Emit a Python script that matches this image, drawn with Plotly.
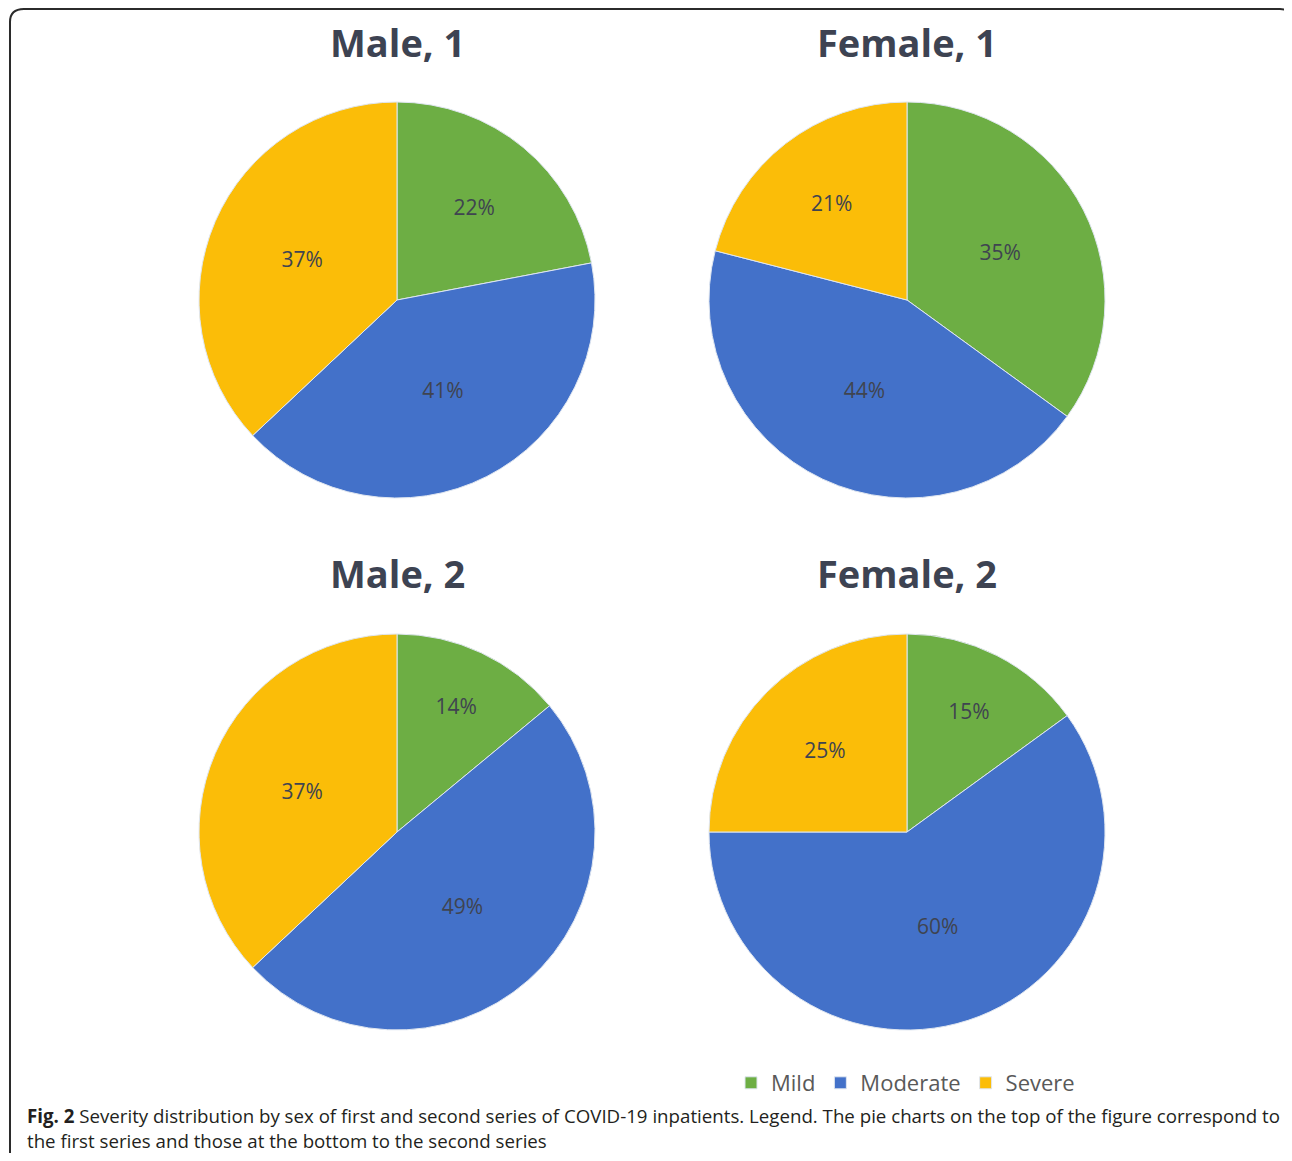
import plotly.graph_objects as go

severity = ['Mild', 'Moderate', 'Severe']
colors = ['#6DAE44', '#4371C9', '#FBBD08']

titles = ['Male, 1', 'Female, 1', 'Male, 2', 'Female, 2']
male_1 = [22, 41, 37]
female_1 = [35, 44, 21]
male_2 = [14, 49, 37]
female_2 = [15, 60, 25]

# page body has an 8px margin, so the figure is drawn inside that
OFF = 8
W, H = 1292 - 2 * OFF, 1161 - 2 * OFF


def px_x(v):
    return (v - OFF) / W


def px_y(v):
    return 1 - (v - OFF) / H


# pie centres and radius in page pixels
centres = [(397, 300), (907, 300), (397, 832), (907, 832)]
radius = 198

fig = go.Figure()
for i, (vals, (cx, cy)) in enumerate(zip([male_1, female_1, male_2, female_2], centres)):
    fig.add_trace(go.Pie(
        labels=severity,
        values=vals,
        sort=False,
        direction='clockwise',
        rotation=0,
        marker=dict(colors=colors, line=dict(color='#dfe6f0', width=1)),
        texttemplate='%{value}%',
        textposition='inside',
        insidetextorientation='horizontal',
        textfont=dict(family='Open Sans', size=21, color='#3f4450'),
        hoverinfo='label+value',
        showlegend=(i == 0),
        domain=dict(x=[px_x(cx - radius), px_x(cx + radius)],
                    y=[px_y(cy + radius), px_y(cy - radius)]),
    ))

annotations = []
title_pos = [(397, 42), (907, 42), (397, 573), (907, 573)]
for t, (tx, ty) in zip(titles, title_pos):
    annotations.append(dict(
        text='<b>%s</b>' % t, x=px_x(tx), y=px_y(ty), xref='paper', yref='paper',
        xanchor='center', yanchor='middle', showarrow=False,
        font=dict(family='Open Sans', size=38, color='#3d4352'),
    ))

caption_1 = ('<b>Fig. 2</b> Severity distribution by sex of first and second series of COVID-19 '
             'inpatients. Legend. The pie charts on the top of the figure correspond to')
caption_2 = 'the first series and those at the bottom to the second series'
for txt, ty in [(caption_1, 1115), (caption_2, 1140)]:
    annotations.append(dict(
        text=txt, x=px_x(25), y=px_y(ty), xref='paper', yref='paper',
        xanchor='left', yanchor='middle', showarrow=False, align='left',
        font=dict(family='Open Sans', size=18.7, color='#231f20'),
    ))

# rounded frame around the figure
frame = 'M %f,%f L %f,%f Q %f,%f %f,%f L %f,%f Q %f,%f %f,%f' % (
    px_x(10), px_y(1180), px_x(10), px_y(22),
    px_x(10), px_y(9), px_x(24), px_y(9),
    px_x(1280), px_y(9),
    px_x(1291), px_y(9), px_x(1291), px_y(20),
)

fig.update_layout(
    width=W, height=H,
    margin=dict(l=0, r=0, t=0, b=0),
    paper_bgcolor='white',
    annotations=annotations,
    shapes=[dict(type='path', path=frame, xref='paper', yref='paper',
                 line=dict(color='#2b2b2b', width=2))],
    legend=dict(
        orientation='h',
        x=px_x(731), y=px_y(1083),
        xanchor='left', yanchor='middle',
        font=dict(family='Open Sans', size=22, color='#595959'),
        itemwidth=30,
        tracegroupgap=0,
    ),
)

fig.write_html('out.html')
